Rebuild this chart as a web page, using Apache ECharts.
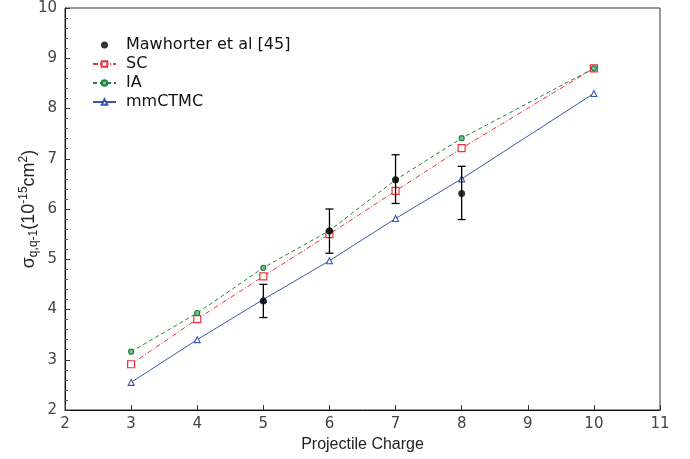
<!DOCTYPE html>
<html><head><meta charset="utf-8">
<script src="https://cdn.jsdelivr.net/npm/echarts@6/dist/echarts.min.js"></script>
<style>html,body{margin:0;padding:0;background:#fff}#c{width:690px;height:459px}</style>
</head><body><div id="c"></div>
<script>
const charges = [3, 4, 5, 6, 7, 8, 10];
const scValues = [2.91, 3.81, 4.66, 5.50, 6.36, 7.21, 8.80];
const iaValues = [3.16, 3.93, 4.83, 5.57, 6.58, 7.41, 8.80];
const mmValues = [2.55, 3.40, 4.20, 4.97, 5.81, 6.60, 8.30];
const expCharges = [5, 6, 7, 8];
const expValues = [4.17, 5.56, 6.58, 6.31];
const expLow = [3.84, 5.12, 6.11, 5.79];
const expHigh = [4.50, 6.00, 7.08, 6.85];

const pairs = (xs, ys) => xs.map((x, i) => [x, ys[i]]);
const chart = echarts.init(document.getElementById('c'));
const tickFont = { fontFamily: 'DejaVu Sans', fontSize: 15, color: '#444' };
chart.setOption({
  animation: false,
  grid: { left: 65, top: 8, right: 30, bottom: 49, show: true, borderColor: '#333', borderWidth: 1, containLabel: false, outerBoundsMode: 'none' },
  legend: {
    orient: 'vertical', left: 92, top: 37, padding: 0, itemGap: 3, itemWidth: 23, itemHeight: 7,
    textStyle: { fontFamily: 'DejaVu Sans', fontSize: 16, color: '#111', padding: [0, 0, 0, 5] },
    data: [
      { name: 'Mawhorter et al [45]', icon: 'circle' },
      { name: 'SC' }, { name: 'IA' }, { name: 'mmCTMC' }
    ]
  },
  xAxis: {
    type: 'value', min: 2, max: 11, interval: 1,
    name: 'Projectile Charge', nameLocation: 'middle', nameGap: 27,
    nameTextStyle: { fontFamily: 'Liberation Sans', fontSize: 16, color: '#222' },
    axisLine: { lineStyle: { color: '#111', width: 1 } },
    axisTick: { inside: true, length: 5, lineStyle: { color: '#333' } },
    axisLabel: Object.assign({ margin: 7 }, tickFont),
    splitLine: { show: false }
  },
  yAxis: {
    type: 'value', min: 2, max: 10, interval: 1,
    name: '{s|σ}{sub|q,q-1}{s|(10}{sup|-15}{s|cm}{sup|2}{s|)}',
    nameLocation: 'middle', nameRotate: 90, nameGap: 25, nameMoveOverlap: false,
    nameTextStyle: {
      fontFamily: 'Liberation Sans', color: '#222',
      rich: {
        s: { fontFamily: 'Liberation Sans', fontSize: 18, color: '#222', lineHeight: 22, verticalAlign: 'middle' },
        sub: { fontFamily: 'Liberation Sans', fontSize: 12, color: '#222', lineHeight: 10, verticalAlign: 'bottom' },
        sup: { fontFamily: 'Liberation Sans', fontSize: 12, color: '#222', lineHeight: 10, verticalAlign: 'top' }
      }
    },
    axisLine: { show: true, lineStyle: { color: '#111', width: 1 } },
    axisTick: { inside: true, length: 5, lineStyle: { color: '#333' } },
    minorTick: { show: true, splitNumber: 5, length: 3, lineStyle: { color: '#555' } },
    axisLabel: Object.assign({ margin: 8 }, tickFont),
    splitLine: { show: false }
  },
  series: [
    {
      name: 'Mawhorter et al [45]', type: 'scatter', data: pairs(expCharges, expValues),
      symbol: 'circle', symbolSize: 7, itemStyle: { color: '#000' }, z: 5
    },
    {
      name: 'errorbars', type: 'custom', z: 4,
      data: expCharges.map((x, i) => [x, expLow[i], expHigh[i]]),
      renderItem: function (params, api) {
        const lo = api.coord([api.value(0), api.value(1)]);
        const hi = api.coord([api.value(0), api.value(2)]);
        const w = 4;
        const st = { stroke: '#000', lineWidth: 1.3 };
        return { type: 'group', children: [
          { type: 'line', shape: { x1: lo[0], y1: lo[1], x2: hi[0], y2: hi[1] }, style: st },
          { type: 'line', shape: { x1: lo[0] - w, y1: lo[1], x2: lo[0] + w, y2: lo[1] }, style: st },
          { type: 'line', shape: { x1: hi[0] - w, y1: hi[1], x2: hi[0] + w, y2: hi[1] }, style: st }
        ]};
      }
    },
    {
      name: 'SC', type: 'line', data: pairs(charges, scValues),
      symbol: 'rect', symbolSize: 7, showAllSymbol: true,
      itemStyle: { color: '#fff', borderColor: '#e8323c', borderWidth: 1.2 },
      lineStyle: { color: '#e8323c', width: 1, type: [5, 2, 1, 2] },
      color: '#e8323c'
    },
    {
      name: 'IA', type: 'line', data: pairs(charges, iaValues),
      symbol: 'circle', symbolSize: 5,
      itemStyle: { color: '#7fbf8f', borderColor: '#1e8040', borderWidth: 1.2 },
      lineStyle: { color: '#1e8040', width: 1, type: [4, 3] },
      color: '#1e8040'
    },
    {
      name: 'mmCTMC', type: 'line', data: pairs(charges, mmValues),
      symbol: 'triangle', symbolSize: 6,
      itemStyle: { color: '#fff', borderColor: '#3a56b0', borderWidth: 1.1 },
      lineStyle: { color: '#3a56b0', width: 1, type: 'solid' },
      color: '#3a56b0'
    }
  ]
});
</script></body></html>
